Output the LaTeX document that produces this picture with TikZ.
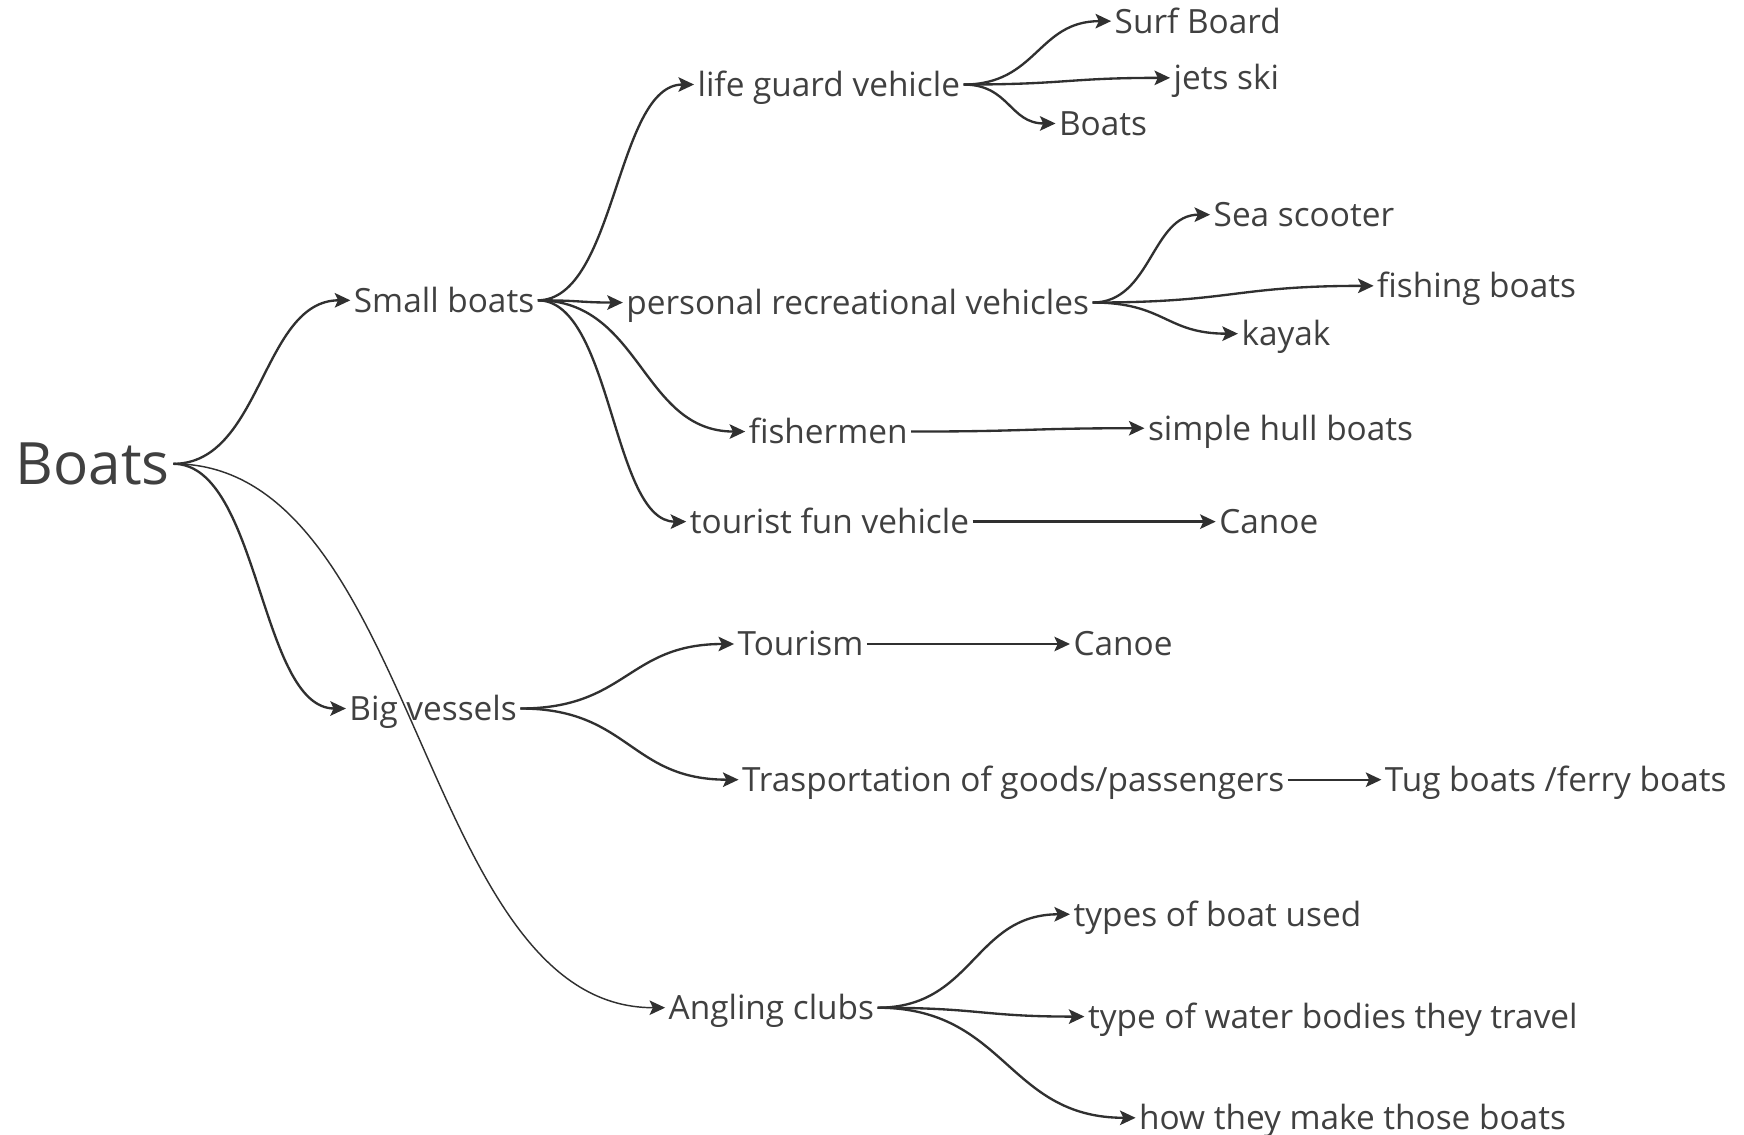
\documentclass[tikz,border=0pt]{standalone}
\usepackage{fontspec}
\setmainfont{Open Sans}
\usetikzlibrary{calc,arrows.meta}
\definecolor{ink}{HTML}{404040}
\definecolor{edgec}{HTML}{303030}
\tikzset{
 lbl/.style={inner xsep=3pt, inner ysep=0pt, text height=21.4pt, text depth=0pt, anchor=west, text=ink, font=\fontsize{30}{36}\selectfont},
 rootlbl/.style={lbl, text height=37.5pt, font=\fontsize{52.5}{60}\selectfont},
 conn/.style={draw=edgec, line width=2.1pt, -{Stealth[length=14pt,width=13pt,inset=3pt]}},
 thinconn/.style={conn, line width=1.3pt},
}
\newcommand\mylink[3][]{\draw[conn,#1] let \p1=(#2.east), \p2=(#3.west) in (\p1) .. controls ({(\x1+\x2)/2},\y1) and ({(\x1+\x2)/2},\y2) .. (\p2);}
\begin{document}
\begin{tikzpicture}[x=1pt,y=-1pt]
\fill[white] (0,0) rectangle (1568,1020);
\useasboundingbox (0,0) rectangle (1568,1020);
\node[rootlbl] (root) at (11,417) {Boats};
\node[lbl] (sb) at (315,270) {Small boats};
\node[lbl] (bv) at (311,637) {Big vessels};
\node[lbl] (ac) at (598,906) {Angling clubs};
\node[lbl] (lg) at (624,76) {life guard vehicle};
\node[lbl] (pr) at (560,272) {personal recreational vehicles};
\node[lbl] (fm) at (670,388) {fishermen};
\node[lbl] (tf) at (617,469) {tourist fun vehicle};
\node[lbl] (surf) at (999,19) {Surf Board};
\node[lbl] (jet) at (1052,70) {jets ski};
\node[lbl] (bt) at (949,111) {Boats};
\node[lbl] (sea) at (1088,193) {Sea scooter};
\node[lbl] (fish) at (1235,257) {fishing boats};
\node[lbl] (kay) at (1113,300) {kayak};
\node[lbl] (hull) at (1029,385) {simple hull boats};
\node[lbl] (can1) at (1093,469) {Canoe};
\node[lbl] (tour) at (660,579) {Tourism};
\node[lbl] (can2) at (962,579) {Canoe};
\node[lbl] (tra) at (664,701) {Trasportation of goods/passengers};
\node[lbl] (tug) at (1242,701) {Tug boats /ferry boats};
\node[lbl] (tob) at (962,822) {types of boat used};
\node[lbl] (wat) at (975,914) {type of water bodies they travel};
\node[lbl] (how) at (1021,1005) {how they make those boats};
\mylink{root}{sb}
\mylink{root}{bv}
\mylink[thinconn]{root}{ac}
\mylink{sb}{lg}
\mylink{sb}{pr}
\mylink{sb}{fm}
\mylink{sb}{tf}
\mylink{lg}{surf}
\mylink{lg}{jet}
\mylink{lg}{bt}
\mylink{pr}{sea}
\mylink{pr}{fish}
\mylink{pr}{kay}
\mylink{fm}{hull}
\mylink{tf}{can1}
\mylink{bv}{tour}
\mylink{bv}{tra}
\mylink{tour}{can2}
\mylink{tra}{tug}
\mylink{ac}{tob}
\mylink{ac}{wat}
\mylink{ac}{how}
\end{tikzpicture}
\end{document}
